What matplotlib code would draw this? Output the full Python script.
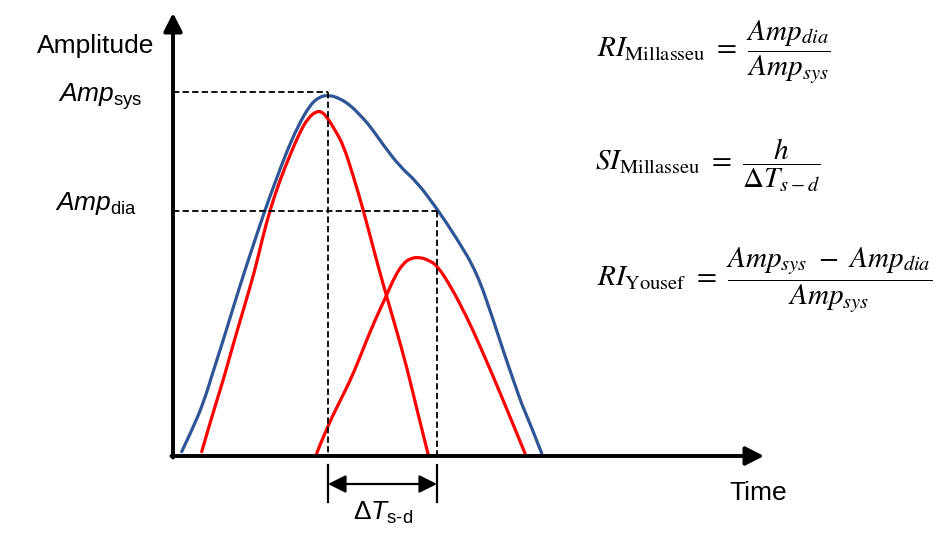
import numpy as np
import matplotlib
matplotlib.use('Agg')
import matplotlib.pyplot as plt
from matplotlib.path import Path
from matplotlib.patches import PathPatch

plt.rcParams['font.family'] = ['Liberation Sans', 'DejaVu Sans']
plt.rcParams['mathtext.fontset'] = 'custom'
plt.rcParams['mathtext.rm'] = 'Liberation Sans'
plt.rcParams['mathtext.it'] = 'Liberation Sans:italic'
plt.rcParams['mathtext.bf'] = 'Liberation Sans:bold'

###########################################################
# curves (t = time, amp = amplitude)
###########################################################
blue_t   = [8.7, 19, 30.3, 40, 50.3, 61, 72, 82, 92, 103, 113.7, 125, 137, 146, 155.3,
            166, 177, 187, 197, 210.3, 227, 243.7, 263.7, 283.7, 303.7, 320.3, 330,
            340.3, 349, 357, 368.7]
blue_amp = [4.3, 26, 52.7, 84, 116, 151, 186, 216, 246, 276, 304.3, 330, 351, 359, 361,
            358, 351, 341, 330, 311, 289.3, 274.3, 247.7, 217.7, 184, 136, 106,
            76, 51, 32.7, 2.7]

sys_t   = [28.7, 39, 50.3, 60, 70.3, 82, 89, 97, 107, 117, 127, 135, 143.7, 149, 153.7,
           162, 170.3, 180, 190.3, 200, 210.3, 222, 233.7, 244, 255.3]
sys_amp = [4.3, 40, 76, 111, 146, 186, 216, 246, 276, 301, 324, 338, 345, 344, 339.3,
           326, 311, 281, 246, 209, 171, 131, 89.3, 46, 1]

dia_t   = [143.7, 153.7, 165, 177, 185, 193.7, 203, 213.7, 222, 230.3, 238, 247, 255,
           263.7, 277, 293.7, 307, 320.3, 335, 352]
dia_amp = [2.7, 27.7, 51, 75, 94, 116, 138, 161, 180, 192.7, 198, 198.7, 196,
           191, 171, 139.3, 110, 79.3, 44, 2.7]

# marker positions
t_sys, amp_sys = 155, 364.3
t_dia, amp_dia = 264, 245.5

blue = '#2F5597'
red = '#FF0000'


def smooth_curve(ax, xs, ys, **kw):
    # quadratic bezier path: the read points act as control points
    pts = list(zip(xs, ys))
    verts = [pts[0]]
    codes = [Path.MOVETO]
    for i in range(1, len(pts) - 1):
        mid = ((pts[i][0] + pts[i + 1][0]) / 2, (pts[i][1] + pts[i + 1][1]) / 2)
        if i == len(pts) - 2:
            mid = pts[-1]
        verts += [pts[i], mid]
        codes += [Path.CURVE3, Path.CURVE3]
    ax.add_patch(PathPatch(Path(verts, codes), fill=False, capstyle='round',
                           joinstyle='round', **kw))


fig = plt.figure(figsize=(9.51, 5.45), dpi=100)
ax = fig.add_axes([0, 0, 1, 1])
ax.set_xlim(-173, 778)
ax.set_ylim(-89, 456)
ax.axis('off')

# dashed guides
dash = dict(color='k', lw=1.3, dashes=(3.5, 1.8))
ax.plot([0, t_sys], [amp_sys, amp_sys], **dash)
ax.plot([t_sys, t_sys], [amp_sys, 0], **dash)
ax.plot([0, t_dia], [amp_dia, amp_dia], **dash)
ax.plot([t_dia, t_dia], [amp_dia, 0], **dash)

# curves
smooth_curve(ax, blue_t, blue_amp, edgecolor=blue, lw=2.3)
smooth_curve(ax, sys_t, sys_amp, edgecolor=red, lw=2.3)
smooth_curve(ax, dia_t, dia_amp, edgecolor=red, lw=2.3)

# axes with arrows
ax.annotate('', xy=(0, 443), xytext=(0, -1.5),
            arrowprops=dict(arrowstyle='-|>,head_length=0.55,head_width=0.28',
                            lw=2.8, color='k', mutation_scale=20, shrinkA=0, shrinkB=0))
ax.annotate('', xy=(591, 0), xytext=(-1.5, 0),
            arrowprops=dict(arrowstyle='-|>,head_length=0.55,head_width=0.28',
                            lw=2.8, color='k', mutation_scale=20, shrinkA=0, shrinkB=0))

# delta T marker
ax.plot([t_sys, t_sys], [-9, -46], color='k', lw=1.6)
ax.plot([t_dia, t_dia], [-9, -46], color='k', lw=1.6)
ax.annotate('', xy=(t_dia, -28), xytext=(t_sys, -28),
            arrowprops=dict(arrowstyle='<|-|>,head_length=0.6,head_width=0.3',
                            lw=1.6, color='k', mutation_scale=18, shrinkA=0, shrinkB=0))

# labels
ax.text(-136, 402.7, 'Amplitude', fontsize=19, ha='left', va='baseline')
ax.text(-30, 354.3, r'$Amp_{\mathrm{sys}}$', fontsize=19, ha='right', va='baseline')
ax.text(-36, 246, r'$Amp_{\mathrm{dia}}$', fontsize=19, ha='right', va='baseline')
ax.text(556, -44, 'Time', fontsize=19, ha='left', va='baseline')
ax.text(210, -64, r'$\Delta T_{\mathrm{s\text{-}d}}$', fontsize=19, ha='center', va='baseline')

# formulas
ax.text(424, 404.3, r'$RI_{\mathrm{Millasseu}}\ =\ \dfrac{Amp_{dia}}{Amp_{sys}}$',
        fontsize=21, ha='left', va='center', math_fontfamily='stix')
ax.text(422, 291, r'$SI_{\mathrm{Millasseu}}\ =\ \dfrac{h}{\Delta T_{s-d}}$',
        fontsize=21, ha='left', va='center', math_fontfamily='stix')
ax.text(424, 176, r'$RI_{\mathrm{Yousef}}\ =\ \dfrac{Amp_{sys}\ -\ Amp_{dia}}{Amp_{sys}}$',
        fontsize=21, ha='left', va='center', math_fontfamily='stix')

plt.savefig('out.png', dpi=100)
